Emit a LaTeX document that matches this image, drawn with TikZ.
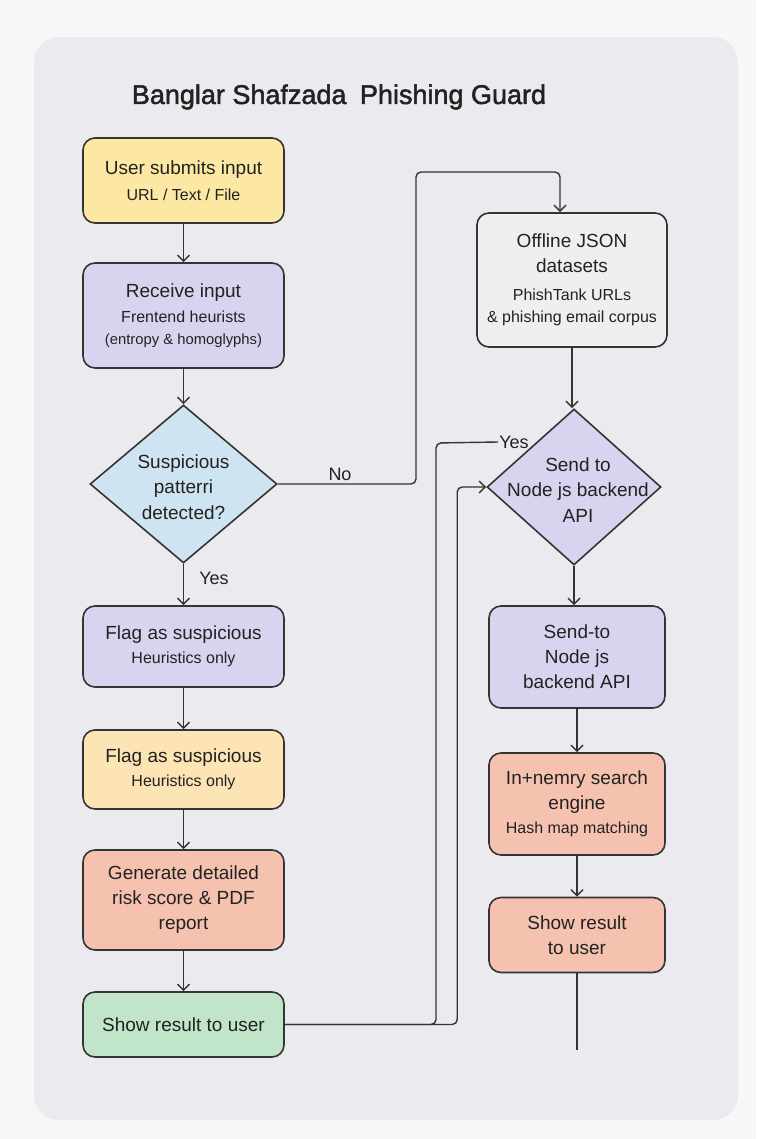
\documentclass[tikz,border=0pt]{standalone}
\usepackage{fontspec}
\setmainfont{Liberation Sans}
\newfontfamily\titlefont[FakeBold=1.8]{Liberation Sans}
\usetikzlibrary{arrows.meta,shapes.geometric}

\definecolor{pagebg}{HTML}{F7F7F8}
\definecolor{panelbg}{HTML}{EBEBEF}
\definecolor{inkline}{HTML}{343434}
\definecolor{textink}{HTML}{222222}
\definecolor{fillyellow}{HTML}{FCE8A2}
\definecolor{filllav}{HTML}{D8D4EF}
\definecolor{fillblue}{HTML}{CFE4F1}
\definecolor{fillpeach}{HTML}{FDE4B4}
\definecolor{fillsalmon}{HTML}{F6C2B0}
\definecolor{fillgreen}{HTML}{C0E5C9}
\definecolor{fillgrey}{HTML}{EFEFF1}

\newcommand\subtxt{\fontsize{16}{22}\selectfont}
\newcommand\smalltxt{\fontsize{14.8}{20}\selectfont}

\begin{document}
\begin{tikzpicture}[x=1pt,y=-1pt,
  box/.style={draw=inkline, line width=1.6pt, rounded corners=12pt, align=center,
    text=textink, font=\fontsize{19}{25}\selectfont, inner sep=0pt},
  decision/.style={draw=inkline, line width=1.6pt, diamond, inner sep=0pt},
  dtext/.style={align=center, text=textink, font=\fontsize{19}{25.5}\selectfont, inner sep=0pt},
  tag/.style={text=textink, font=\fontsize{18}{22}\selectfont, inner sep=1pt},
  flow/.style={draw=inkline, line width=1.4pt, rounded corners=5pt},
  arr/.style={flow, -{Straight Barb[length=6pt,width=12pt,line width=1.4pt]}}
]
% page and panel
\fill[pagebg] (0,0) rectangle (756,1139);
\fill[panelbg, rounded corners=25pt] (34,37) rectangle (738,1120);

% title
\node[text=textink, font=\titlefont\fontsize{27}{31}\selectfont, inner sep=0pt] (title) at (339,97)
  {Banglar Shafzada\hspace{0.5em}Phishing Guard};

% left column
\node[box, fill=fillyellow, minimum width=201pt, minimum height=85pt] (input) at (183.5,180.5)
  {User submits input\\[1.5pt]\subtxt URL / Text / File};
\node[box, fill=filllav, minimum width=201pt, minimum height=105pt] (receive) at (183.5,315.5)
  {Receive input\\[0.5pt]\subtxt Frentend heurists\\[-3.5pt]\smalltxt (entropy \& homoglyphs)};
\node[decision, fill=fillblue, minimum width=187pt, minimum height=158pt] (d1) at (183.5,484) {};
\node[dtext] (d1t) at (183.5,487) {Suspicious\\patterri\\detected?};
\node[box, fill=filllav, minimum width=201pt, minimum height=81pt] (flag1) at (183.5,646.5)
  {Flag as suspicious\\[-0.5pt]\subtxt Heuristics only};
\node[box, fill=fillpeach, minimum width=201pt, minimum height=79pt] (flag2) at (183.5,769.5)
  {Flag as suspicious\\[-0.5pt]\subtxt Heuristics only};
\node[box, fill=fillsalmon, minimum width=201pt, minimum height=100pt] (report) at (183.5,900)
  {Generate detailed\\risk score \& PDF\\report};
\node[box, fill=fillgreen, minimum width=201pt, minimum height=65pt] (show1) at (183.5,1024.5)
  {Show result to user};

% right column
\node[box, fill=fillgrey, minimum width=190pt, minimum height=134pt] (offline) at (572,280)
  {Offline JSON\\datasets\\[3pt]\subtxt PhishTank URLs\\[-3pt]\subtxt \& phishing email corpus};
\node[decision, fill=filllav, minimum width=174pt, minimum height=156pt] (d2) at (574,487) {};
\node[dtext] (d2t) at (578,490) {Send to\\Node js backend\\API};
\node[box, fill=filllav, minimum width=176pt, minimum height=102pt] (sendto) at (577,657)
  {Send-to\\Node js\\backend API};
\node[box, fill=fillsalmon, minimum width=176pt, minimum height=102pt] (inmem) at (577,804)
  {In+nemry search\\engine\\[-1pt]\subtxt Hash map matching};
\node[box, fill=fillsalmon, minimum width=176pt, minimum height=75pt] (show2) at (577,935)
  {Show result\\to user};
\coordinate (tail) at (577,1050);

% branch labels
\node[tag] (no) at (340,474) {No};
\node[tag] (yes1) at (214,578) {Yes};
\node[tag] (yes2) at (514,442) {Yes};

% left column flow
\draw[arr] (input) -- (receive);
\draw[arr] (receive) -- (d1);
\draw[arr] (d1) -- (flag1);
\draw[arr] (flag1) -- (flag2);
\draw[arr] (flag2) -- (report);
\draw[arr] (report) -- (show1);

% "No" branch up to the datasets
\draw[arr] (d1.east) -| (416,172) -| ([xshift=-12pt]offline.north);

% right column flow
\draw[arr] (offline.south) -- (offline.south |- d2.north);
\draw[arr] (d2.south) -- (d2.south |- sendto.north);
\draw[arr] (sendto) -- (inmem);
\draw[arr] (inmem) -- (show2);
\draw[flow] (show2) -- (tail);

% result loops back to the backend decision
\draw[flow] (show1.east) -| (436,443) -- (yes2.west);
\draw[arr] (show1.east) -| ([xshift=-29pt]d2.west) -- (d2.west);
\end{tikzpicture}
\end{document}
